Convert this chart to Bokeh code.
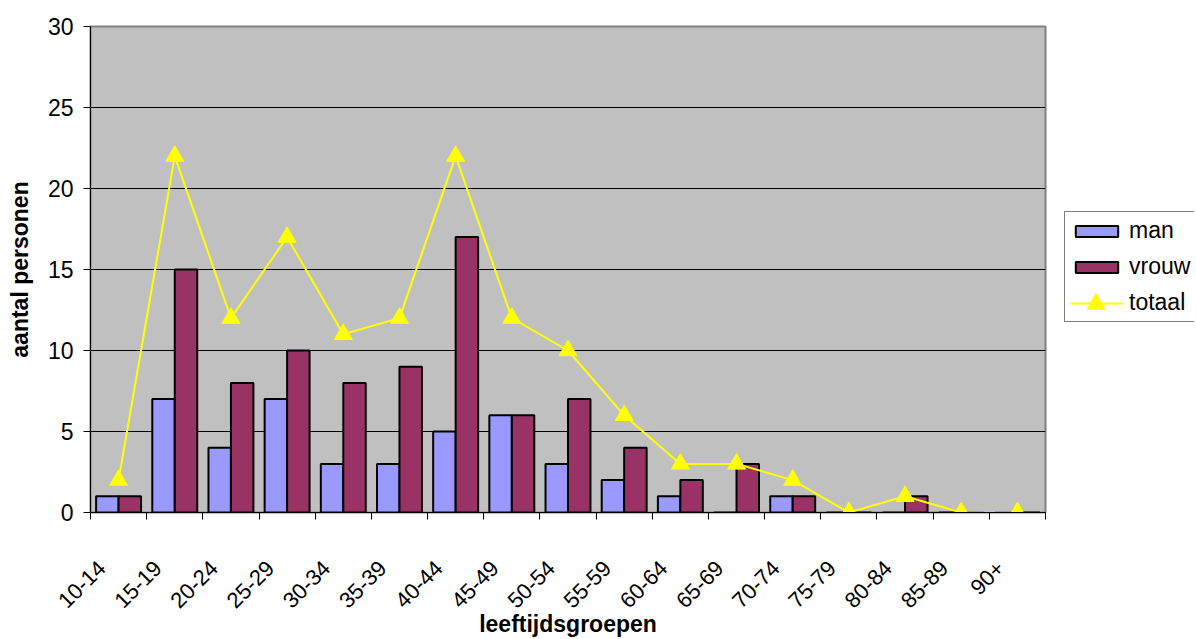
import math
from bokeh.plotting import figure
from bokeh.layouts import row
from bokeh.models import ColumnDataSource, Range1d, FixedTicker, Legend, LegendItem
from bokeh.transform import dodge
from bokeh.embed import file_html
from bokeh.resources import INLINE

groups = ["10-14", "15-19", "20-24", "25-29", "30-34", "35-39", "40-44", "45-49",
          "50-54", "55-59", "60-64", "65-69", "70-74", "75-79", "80-84", "85-89", "90+"]
man = [1, 7, 4, 7, 3, 3, 5, 6, 3, 2, 1, 0, 1, 0, 0, 0, 0]
vrouw = [1, 15, 8, 10, 8, 9, 17, 6, 7, 4, 2, 3, 1, 0, 1, 0, 0]
totaal = [2, 22, 12, 17, 11, 12, 22, 12, 10, 6, 3, 3, 2, 0, 1, 0, 0]
y_ticks = [0, 5, 10, 15, 20, 25, 30]

n = len(groups)
pos = [i + 0.5 for i in range(n)]
src = ColumnDataSource(dict(pos=pos, man=man, vrouw=vrouw, totaal=totaal, group=groups))

FONT = "Liberation Sans"
C_MAN = "#9999FF"
C_VROUW = "#993366"
C_TOT = "#FFFF00"
TRI = 18
H = 639
TOP, BOTTOM = 26, 126

p = figure(width=1050, height=H,
           min_border_left=90, min_border_top=TOP, min_border_bottom=BOTTOM, min_border_right=5,
           x_range=Range1d(0, n), y_range=Range1d(0, y_ticks[-1]),
           output_backend="svg", toolbar_location=None)

p.background_fill_color = "#C0C0C0"
p.border_fill_color = "white"
p.outline_line_color = "#808080"
p.outline_line_width = 2

p.vbar(x=dodge("pos", -0.2, range=p.x_range), top="man", width=0.4, source=src,
       fill_color=C_MAN, line_color="black", line_width=2)
p.vbar(x=dodge("pos", 0.2, range=p.x_range), top="vrouw", width=0.4, source=src,
       fill_color=C_VROUW, line_color="black", line_width=2)
p.line(x="pos", y="totaal", source=src, line_color=C_TOT, line_width=2)
p.scatter(x="pos", y="totaal", source=src, marker="triangle", size=TRI,
          fill_color=C_TOT, line_color=C_TOT)

# grid
p.xgrid.visible = False
p.ygrid.ticker = FixedTicker(ticks=y_ticks[1:-1])
p.ygrid.grid_line_color = "black"
p.ygrid.grid_line_width = 1

# y axis
p.yaxis.ticker = FixedTicker(ticks=y_ticks, minor_ticks=[])
p.yaxis.major_tick_out = 7
p.yaxis.major_tick_in = 0
p.yaxis.major_label_standoff = 10
p.yaxis.axis_label = "aantal personen"
p.yaxis.axis_label_standoff = 12

# x axis: boundaries as minor ticks, labels placed like the reference (slightly left of centre)
label_pos = [x - 0.3 for x in pos]
p.xaxis.ticker = FixedTicker(ticks=label_pos, minor_ticks=list(range(n + 1)))
p.xaxis.major_label_overrides = {x: g for x, g in zip(label_pos, groups)}
p.xaxis.major_tick_out = 0
p.xaxis.major_tick_in = 0
p.xaxis.minor_tick_out = 7
p.xaxis.minor_tick_in = 0
p.xaxis.minor_tick_line_color = "black"
p.xaxis.major_label_orientation = math.pi / 4
p.xaxis.major_label_standoff = 45
p.xaxis.axis_label = "leeftijdsgroepen"
p.xaxis.axis_label_standoff = -7

for ax in (p.xaxis, p.yaxis):
    ax.axis_line_color = "black"
    ax.axis_line_width = 1
    ax.major_tick_line_color = "black"
    ax.major_label_text_font = FONT
    ax.major_label_text_font_size = "23px"
    ax.major_label_text_color = "black"
    ax.axis_label_text_font = FONT
    ax.axis_label_text_font_size = "23px"
    ax.axis_label_text_font_style = "bold"
    ax.axis_label_text_color = "black"
p.xaxis.major_label_text_font_size = "22px"

# legend panel: a small figure to the right, same vertical borders as the chart
q = figure(width=146, height=H,
           min_border_left=12, min_border_right=2, min_border_top=TOP, min_border_bottom=BOTTOM,
           x_range=Range1d(0, 1), y_range=Range1d(0, 1),
           x_axis_type=None, y_axis_type=None,
           output_backend="svg", toolbar_location=None)
q.grid.visible = False
q.outline_line_color = None
q.background_fill_color = "white"
q.border_fill_color = "white"

nan = float("nan")
dummy = ColumnDataSource(dict(x=[nan], y=[nan]))
lg_man = q.vbar(x="x", top="y", width=0.1, source=dummy, fill_color=C_MAN,
                line_color="black", line_width=2)
lg_vrouw = q.vbar(x="x", top="y", width=0.1, source=dummy, fill_color=C_VROUW,
                  line_color="black", line_width=2)
lg_line = q.line(x="x", y="y", source=dummy, line_color=C_TOT, line_width=2)
lg_pts = q.scatter(x="x", y="y", source=dummy, marker="triangle", size=TRI,
                   fill_color=C_TOT, line_color=C_TOT)

leg = Legend(items=[LegendItem(label="man", renderers=[lg_man]),
                    LegendItem(label="vrouw", renderers=[lg_vrouw]),
                    LegendItem(label="totaal", renderers=[lg_line])],
             location=(2, 190))
leg.border_line_color = "black"
leg.border_line_width = 1
leg.background_fill_color = "white"
leg.background_fill_alpha = 1
leg.label_text_font = FONT
leg.label_text_font_size = "23px"
leg.label_text_color = "black"
leg.label_standoff = 6
leg.padding = 5
leg.spacing = 9
leg.margin = 0
leg.glyph_width = 53
leg.glyph_height = 14

# larger triangle marker over the 'totaal' swatch
leg_tri = Legend(items=[LegendItem(label="", renderers=[lg_pts])], location=(7, 186))
leg_tri.border_line_color = None
leg_tri.background_fill_alpha = 0
leg_tri.padding = 0
leg_tri.margin = 0
leg_tri.glyph_width = 53
leg_tri.glyph_height = 45
leg_tri.label_text_font_size = "1px"

q.add_layout(leg, "center")
q.add_layout(leg_tri, "center")

layout = row(p, q, spacing=0)

open("out.html", "w").write(file_html(layout, INLINE))
